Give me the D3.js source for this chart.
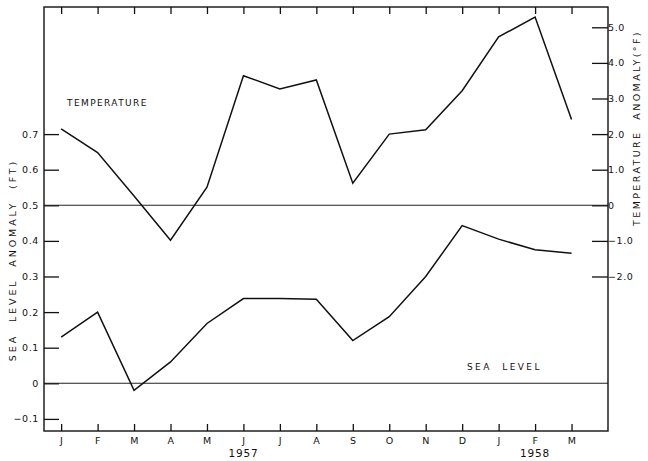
<!DOCTYPE html>
<html>
<head>
<meta charset="utf-8">
<script src="https://cdn.jsdelivr.net/npm/d3@7"></script>
<style>
  html, body { margin: 0; padding: 0; background: #fff; }
  svg text { font-family: "DejaVu Sans", "Liberation Sans", Arial, sans-serif; fill: #111; }
</style>
</head>
<body>
<div id="chart"></div>
<script>
// Sea level and temperature anomalies, Jan 1957 - Mar 1958
var months = ["J", "F", "M", "A", "M", "J", "J", "A", "S", "O", "N", "D", "J", "F", "M"];
var seaLevel = [0.13, 0.20, -0.02, 0.06, 0.168, 0.238, 0.238, 0.236, 0.12, 0.187, 0.30, 0.443, 0.405, 0.375, 0.365];
var temperature = [2.15, 1.48, 0.26, -0.98, 0.51, 3.64, 3.27, 3.52, 0.62, 2.0, 2.12, 3.22, 4.73, 5.29, 2.41];
var seaTicks = [-0.1, 0, 0.1, 0.2, 0.3, 0.4, 0.5, 0.6, 0.7];
var tempTicks = [-2, -1, 0, 1, 2, 3, 4, 5];
var years = [{ label: "1957", at: 5 }, { label: "1958", at: 13 }];

(function () {
    "use strict";
    var W = 648, H = 461;
    var m = { top: 7, right: 40, bottom: 30, left: 44 };
    var FONT = "\"DejaVu Sans\", \"Liberation Sans\", Arial, sans-serif";
    var svg = d3.select("#chart").append("svg").attr("width", W).attr("height", H);

    var x = d3.scaleLinear().domain([-0.47, 15]).range([m.left, W - m.right]);
    var ySea = d3.scaleLinear().domain([-0.134, 1.057]).range([H - m.bottom, m.top]);
    // 1 degF on the right axis equals 0.1 ft, and 0 degF sits on 0.5 ft
    var yTemp = d3.scaleLinear().domain([-6.34, 5.57]).range([H - m.bottom, m.top]);

    var fmt = function (d) { return d === 0 ? "0" : d3.format(".1f")(d); };

    function styleAxis(g) {
        g.select(".domain").remove();
        g.selectAll("line").attr("stroke", "#111").attr("stroke-width", 1.3);
        g.selectAll("text").style("font-size", "9.5px").style("font-family", FONT)
            .style("letter-spacing", "0.6px").attr("fill", "#111");
    }

    // left axis (sea level)
    svg.append("g").attr("transform", "translate(" + m.left + ",0)")
        .call(d3.axisLeft(ySea).tickValues(seaTicks).tickSize(-15).tickPadding(5).tickFormat(fmt))
        .call(styleAxis);

    // right axis (temperature)
    svg.append("g").attr("transform", "translate(" + (W - m.right) + ",0)")
        .call(d3.axisRight(yTemp).tickValues(tempTicks).tickSize(-16).tickPadding(0).tickFormat(fmt))
        .call(styleAxis);

    // month ticks bottom and top
    svg.append("g").attr("transform", "translate(0," + (H - m.bottom) + ")")
        .call(d3.axisBottom(x).tickValues(d3.range(months.length)).tickSize(-7).tickPadding(6)
            .tickFormat(function (d) { return months[d]; }))
        .call(styleAxis);
    svg.append("g").attr("transform", "translate(0," + m.top + ")")
        .call(d3.axisTop(x).tickValues(d3.range(months.length)).tickSize(-7).tickFormat(""))
        .call(styleAxis);

    svg.selectAll("text.year").data(years).enter().append("text").attr("class", "year")
        .attr("x", function (d) { return x(d.at); }).attr("y", 457)
        .attr("text-anchor", "middle").style("font-size", "10.5px").style("letter-spacing", "0.8px")
        .text(function (d) { return d.label; });

    // zero lines
    svg.selectAll("line.zero").data([0, 0.5]).enter().append("line").attr("class", "zero")
        .attr("x1", m.left).attr("x2", W - m.right)
        .attr("y1", function (d) { return ySea(d); }).attr("y2", function (d) { return ySea(d); })
        .attr("stroke", "#222").attr("stroke-width", 1.1);

    // frame
    svg.append("rect").attr("x", m.left).attr("y", m.top)
        .attr("width", W - m.left - m.right).attr("height", H - m.top - m.bottom)
        .attr("fill", "none").attr("stroke", "#111").attr("stroke-width", 1.4);

    var seaLine = d3.line().x(function (d, i) { return x(i); }).y(function (d) { return ySea(d); });
    var tempLine = d3.line().x(function (d, i) { return x(i); }).y(function (d) { return yTemp(d); });

    svg.append("path").datum(seaLevel).attr("d", seaLine)
        .attr("fill", "none").attr("stroke", "#111").attr("stroke-width", 1.5);
    svg.append("path").datum(temperature).attr("d", tempLine)
        .attr("fill", "none").attr("stroke", "#111").attr("stroke-width", 1.5);

    // series labels
    svg.append("text").attr("x", 67).attr("y", 106).style("font-size", "9px")
        .style("letter-spacing", "1.4px").text("TEMPERATURE");
    svg.append("text").attr("x", 467).attr("y", 370).style("font-size", "9px")
        .style("letter-spacing", "2.4px").style("white-space", "pre").text("SEA  LEVEL");

    // axis titles
    svg.append("text").attr("transform", "translate(16,260) rotate(-90)")
        .attr("text-anchor", "middle").style("font-size", "9.5px").style("letter-spacing", "2.9px")
        .style("white-space", "pre").text("SEA  LEVEL  ANOMALY  (FT)");
    svg.append("text").attr("transform", "translate(640,128) rotate(-90)")
        .attr("text-anchor", "middle").style("font-size", "9.5px").style("letter-spacing", "2.4px")
        .style("white-space", "pre").text("TEMPERATURE  ANOMALY(\u00B0F)");
})();
</script>
</body>
</html>
